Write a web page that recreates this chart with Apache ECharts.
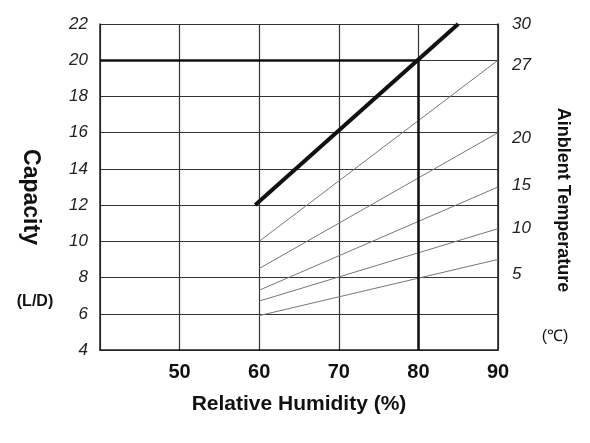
<!DOCTYPE html><html><head><script src="https://cdn.jsdelivr.net/npm/echarts@6/dist/echarts.min.js"></script></head><body style="margin:0;background:#fff"><div id="c" style="width:590px;height:443px"></div><script>
const xTicks=[50,60,70,80,90];
const thick=[[59.5,12],[85,22]];
const thinLines=[
 [[60,10],[90,20]],
 [[60,8.5],[90,16]],
 [[60,7.3],[90,13]],
 [[60,6.7],[90,10.7]],
 [[60,5.9],[90,9]]
];
const rightPos=[22,19.7,15.7,13.1,10.7,8.2];
const rightLabels=['30','27','20','15','10','5'];
const ch=echarts.init(document.getElementById('c'));
const series=[{type:'line',data:thick,symbol:'none',lineStyle:{color:'#111',width:4},z:5,
 markLine:{silent:true,symbol:'none',label:{show:false},lineStyle:{color:'#111',width:2.5,type:'solid'},
 data:[[{coord:[40,20]},{coord:[80,20]}],[{coord:[80,4]},{coord:[80,20]}]]}}];
thinLines.forEach(d=>series.push({type:'line',data:d,symbol:'none',lineStyle:{color:'#777',width:1}}));
ch.setOption({animation:false,
 grid:{left:100,right:92,top:24,bottom:93},
 xAxis:{type:'value',min:40,max:90,interval:10,axisLine:{lineStyle:{color:'#222',width:1.5}},axisTick:{show:false},
  splitLine:{lineStyle:{color:'#333',width:1.2}},
  axisLabel:{color:'#111',fontWeight:'bold',fontSize:20,fontFamily:'Liberation Sans',margin:12,formatter:v=>v===40?'':v},
  name:'Relative Humidity (%)',nameLocation:'middle',nameGap:44,nameTextStyle:{color:'#111',fontWeight:'bold',fontSize:21,fontFamily:'Liberation Sans'}},
 yAxis:[{type:'value',min:4,max:22,interval:2,axisLine:{show:true,lineStyle:{color:'#222',width:1.5}},axisTick:{show:false},
  splitLine:{lineStyle:{color:'#333',width:1.2}},
  axisLabel:{color:'#222',fontStyle:'italic',fontSize:17,fontFamily:'Liberation Sans',margin:12}},
  {type:'value',min:4,max:22,position:'right',axisLine:{show:true,lineStyle:{color:'#222',width:1.5}},axisTick:{show:false},splitLine:{show:false},
  axisLabel:{customValues:rightPos,color:'#222',fontStyle:'italic',fontSize:17,fontFamily:'Liberation Sans',margin:14,
   formatter:v=>{const i=rightPos.findIndex(p=>Math.abs(p-v)<0.01);return i>=0?rightLabels[i]:'';}}}],
 graphic:[
  {type:'text',x:30,y:197,rotation:-Math.PI/2,style:{text:'Capacity',font:'bold 23px Liberation Sans',fill:'#111',align:'center',verticalAlign:'middle'}},
  {type:'text',x:35,y:302,style:{text:'(L/D)',font:'bold 16px Liberation Sans',fill:'#111',align:'center',verticalAlign:'middle'}},
  {type:'text',x:563,y:200,rotation:-Math.PI/2,style:{text:'Ainblent Temperature',font:'bold 18px Liberation Sans',fill:'#111',align:'center',verticalAlign:'middle'}},
  {type:'text',x:555,y:337,style:{text:'(℃)',font:'16px Liberation Sans',fill:'#111',align:'center',verticalAlign:'middle'}}
 ],
 series});
</script></body></html>
